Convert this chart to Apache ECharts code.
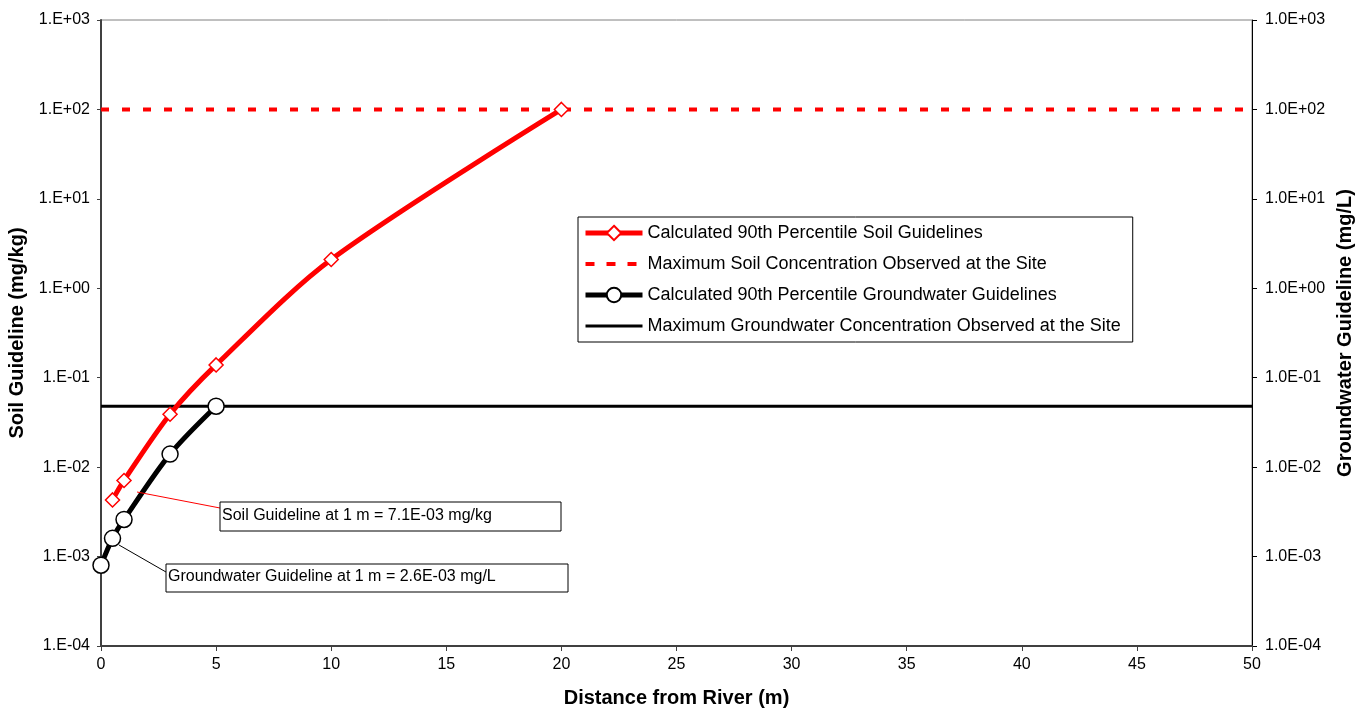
<!DOCTYPE html>
<html>
<head>
<meta charset="utf-8">
<script src="https://cdn.jsdelivr.net/npm/echarts@6/dist/echarts.min.js"></script>
<style>
  html, body { margin: 0; padding: 0; background: #fff; }
  #chart { width: 1356px; height: 708px; }
</style>
</head>
<body>
<div id="chart"></div>
<script>
// distances (m) and guideline values
const soilDistance = [0.5, 1, 3, 5, 10, 20];
const soilGuideline = [0.0043, 0.0071, 0.039, 0.139, 2.1, 100];
const gwDistance = [0, 0.5, 1, 3, 5];
const gwGuideline = [0.0008, 0.0016, 0.0026, 0.014, 0.048];
const maxSoilConc = 100;
const maxGwConc = 0.048;
const distanceRange = [0, 50];

const seriesNames = [
  'Calculated 90th Percentile Soil Guidelines',
  'Maximum Soil Concentration Observed at the Site',
  'Calculated 90th Percentile Groundwater Guidelines',
  'Maximum Groundwater Concentration Observed at the Site'
];

const FONT = '"Liberation Sans", Arial, sans-serif';

function expLabel(v, mant) {
  const e = Math.round(Math.log10(v));
  const sign = e < 0 ? '-' : '+';
  const a = Math.abs(e);
  return mant + 'E' + sign + (a < 10 ? '0' + a : a);
}

const chart = echarts.init(document.getElementById('chart'));

const titleStyle = { fontFamily: FONT, fontSize: 20, fontWeight: 'bold', color: '#000' };
const tickFont = { fontFamily: FONT, fontSize: 16, color: '#000' };

const yCommon = {
  type: 'log',
  logBase: 10,
  min: 0.0001,
  max: 1000,
  splitNumber: 7,
  splitLine: { show: false },
  nameLocation: 'middle',
  nameRotate: 90,
  nameTextStyle: titleStyle
};

const option = {
  animation: false,
  backgroundColor: '#fff',
  grid: {
    left: 101, right: 104, top: 20, bottom: 62,
    outerBoundsMode: 'none',
    containLabel: false,
    show: true, borderColor: '#808080', borderWidth: 1
  },
  legend: {
    orient: 'vertical',
    left: 578,
    top: 217,
    data: [
      { name: seriesNames[0], lineStyle: { width: 5 } },
      { name: seriesNames[1], lineStyle: { width: 4, type: [9, 12] }, itemStyle: { opacity: 0 } },
      { name: seriesNames[2], lineStyle: { width: 5 } },
      { name: seriesNames[3], lineStyle: { width: 3 }, itemStyle: { opacity: 0 } }
    ],
    itemWidth: 57,
    itemHeight: 18,
    itemGap: 13,
    padding: [7, 12, 7, 5],
    borderColor: '#000',
    borderWidth: 1,
    backgroundColor: '#fff',
    textStyle: { fontFamily: FONT, fontSize: 18, color: '#000', lineHeight: 18 }
  },
  xAxis: {
    type: 'value',
    min: distanceRange[0],
    max: distanceRange[1],
    interval: 5,
    name: 'Distance from River (m)',
    nameLocation: 'middle',
    nameGap: 42,
    nameTextStyle: titleStyle,
    splitLine: { show: false },
    axisLine: { lineStyle: { color: '#404040', width: 2 } },
    axisTick: { length: 5, lineStyle: { color: '#404040' } },
    axisLabel: Object.assign({ margin: 11 }, tickFont)
  },
  yAxis: [
    Object.assign({}, yCommon, {
      position: 'left',
      name: 'Soil Guideline (mg/kg)',
      nameGap: 73,
      axisLine: { show: true, lineStyle: { color: '#404040', width: 2 } },
      axisTick: { show: true, length: 4, lineStyle: { color: '#404040' } },
      axisLabel: Object.assign({ margin: 11, formatter: v => expLabel(v, '1.') }, tickFont)
    }),
    Object.assign({}, yCommon, {
      position: 'right',
      name: 'Groundwater Guideline (mg/L)',
      nameGap: 82,
      axisLine: { show: true, lineStyle: { color: '#000', width: 1 } },
      axisTick: { show: true, length: 5, lineStyle: { color: '#000' } },
      axisLabel: Object.assign({ margin: 13, formatter: v => expLabel(v, '1.0') }, tickFont)
    })
  ],
  series: [
    {
      name: seriesNames[0],
      type: 'line',
      yAxisIndex: 0,
      smooth: 0.3,
      symbol: 'diamond',
      symbolSize: 14,
      showAllSymbol: true,
      lineStyle: { color: '#ff0000', width: 5 },
      itemStyle: { color: '#fff', borderColor: '#ff0000', borderWidth: 1.5 },
      z: 4,
      data: soilDistance.map((d, i) => [d, soilGuideline[i]])
    },
    {
      name: seriesNames[1],
      type: 'line',
      yAxisIndex: 0,
      symbol: 'none',
      lineStyle: { color: '#ff0000', width: 4, type: [8, 13] },
      itemStyle: { color: '#ff0000' },
      z: 2,
      data: distanceRange.map(d => [d, maxSoilConc])
    },
    {
      name: seriesNames[2],
      type: 'line',
      yAxisIndex: 1,
      smooth: 0.3,
      symbol: 'circle',
      symbolSize: 16,
      lineStyle: { color: '#000', width: 5 },
      itemStyle: { color: '#fff', borderColor: '#000', borderWidth: 1.5 },
      z: 5,
      data: gwDistance.map((d, i) => [d, gwGuideline[i]])
    },
    {
      name: seriesNames[3],
      type: 'line',
      yAxisIndex: 1,
      symbol: 'none',
      lineStyle: { color: '#000', width: 3 },
      itemStyle: { color: '#000' },
      z: 3,
      data: distanceRange.map(d => [d, maxGwConc])
    }
  ],
  graphic: [
    // callout for soil guideline at 1 m
    { type: 'line', shape: { x1: 137, y1: 492, x2: 220, y2: 508 }, style: { stroke: '#ff0000', lineWidth: 1 }, z: 10 },
    { type: 'rect', shape: { x: 220, y: 502, width: 341, height: 29 }, style: { fill: '#fff', stroke: '#000', lineWidth: 1 }, z: 10 },
    { type: 'text', x: 222, y: 508, style: { text: 'Soil Guideline at 1 m = 7.1E-03 mg/kg', font: '16px ' + FONT, fill: '#000' }, z: 11 },
    // callout for groundwater guideline at 1 m
    { type: 'line', shape: { x1: 119, y1: 545, x2: 166, y2: 572 }, style: { stroke: '#000', lineWidth: 1 }, z: 10 },
    { type: 'rect', shape: { x: 166, y: 564, width: 402, height: 28 }, style: { fill: '#fff', stroke: '#000', lineWidth: 1 }, z: 10 },
    { type: 'text', x: 168, y: 569, style: { text: 'Groundwater Guideline at 1 m = 2.6E-03 mg/L', font: '16px ' + FONT, fill: '#000' }, z: 11 }
  ]
};

chart.setOption(option);
</script>
</body>
</html>
